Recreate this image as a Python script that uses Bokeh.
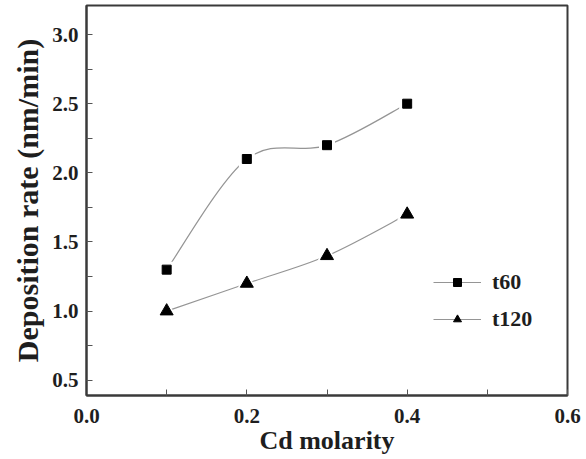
from bokeh.plotting import figure
from bokeh.models import (Range1d, FixedTicker, ColumnDataSource, Legend, LegendItem,
                          PrintfTickFormatter)
from bokeh.embed import file_html
from bokeh.resources import INLINE

# data
cd_molarity = [0.1, 0.2, 0.3, 0.4]
t60 = [1.3, 2.1, 2.2, 2.5]
t120 = [1.0, 1.2, 1.4, 1.7]
series_names = ["t60", "t120"]
x_ticks = [0.0, 0.2, 0.4, 0.6]
x_minor = [0.1, 0.3, 0.5]
y_ticks = [0.5, 1.0, 1.5, 2.0, 2.5, 3.0]
y_minor = [0.75, 1.25, 1.75, 2.25, 2.75]

FONT = "Liberation Serif"
LINE_COLOR = "#959595"
TEXT = "#1e1e1e"

p = figure(width=586, height=459, output_backend="svg", toolbar_location=None,
           x_range=Range1d(0.0, 0.6), y_range=Range1d(0.39, 3.21),
           min_border_left=86, min_border_right=19, min_border_top=5, min_border_bottom=64)
p.grid.visible = False
p.background_fill_color = "white"
p.border_fill_color = "white"
p.outline_line_color = "#3a3a3a"
p.outline_line_width = 2

for ax in (p.xaxis[0], p.yaxis[0]):
    ax.axis_line_color = "#3a3a3a"
    ax.axis_line_width = 2
    ax.major_tick_in = 6
    ax.major_tick_out = 0
    ax.minor_tick_in = 6
    ax.minor_tick_out = 0
    ax.major_tick_line_color = "#555555"
    ax.minor_tick_line_color = "#555555"
    ax.major_label_text_font = FONT
    ax.major_label_text_font_style = "bold"
    ax.major_label_text_font_size = "21px"
    ax.major_label_text_color = TEXT
    ax.axis_label_text_font = FONT
    ax.axis_label_text_font_style = "bold"
    ax.axis_label_text_color = TEXT
    ax.formatter = PrintfTickFormatter(format="%.1f")

p.xaxis.ticker = FixedTicker(ticks=x_ticks, minor_ticks=x_minor)
p.yaxis.ticker = FixedTicker(ticks=y_ticks, minor_ticks=y_minor)
p.xaxis.major_label_standoff = 13
p.yaxis.major_label_standoff = 8
p.xaxis.axis_label = "Cd molarity"
p.yaxis.axis_label = "Deposition rate (nm/min)"
p.xaxis.axis_label_text_font_size = "26px"
p.yaxis.axis_label_text_font_size = "30px"
p.xaxis.axis_label_standoff = 0
p.yaxis.axis_label_standoff = 5


def bezier_source(xs, ys):
    n = len(xs)
    d = dict(x0=[], y0=[], x1=[], y1=[], cx0=[], cy0=[], cx1=[], cy1=[])
    for i in range(n - 1):
        im = max(i - 1, 0)
        ip2 = min(i + 2, n - 1)
        d["x0"].append(xs[i]); d["y0"].append(ys[i])
        d["x1"].append(xs[i + 1]); d["y1"].append(ys[i + 1])
        d["cx0"].append(xs[i] + (xs[i + 1] - xs[im]) / 6)
        d["cy0"].append(ys[i] + (ys[i + 1] - ys[im]) / 6)
        d["cx1"].append(xs[i + 1] - (xs[ip2] - xs[i]) / 6)
        d["cy1"].append(ys[i + 1] - (ys[ip2] - ys[i]) / 6)
    return ColumnDataSource(d)


items = []
for name, ys, marker, size in [(series_names[0], t60, "square", 9),
                               (series_names[1], t120, "triangle", 13)]:
    p.bezier(x0="x0", y0="y0", x1="x1", y1="y1", cx0="cx0", cy0="cy0",
             cx1="cx1", cy1="cy1", source=bezier_source(cd_molarity, ys),
             line_color=LINE_COLOR, line_width=1.2)
    # white halo to leave a small gap between curve and marker
    halo = p.scatter(cd_molarity, ys, marker=marker, size=size + 7,
                     fill_color="white", line_color=None)
    sc = p.scatter(cd_molarity, ys, marker=marker, size=size,
                   fill_color="black", line_color="black")
    dummy = p.line(x=[float("nan")], y=[float("nan")],
                   line_color=LINE_COLOR, line_width=1.2)
    items.append(LegendItem(label=name, renderers=[dummy, halo, sc]))

legend = Legend(items=items, location=(347, 63), padding=0, margin=0,
                spacing=11, glyph_width=48, glyph_height=20, label_height=20,
                label_standoff=11, border_line_color=None,
                background_fill_alpha=0,
                label_text_font=FONT, label_text_font_size="22px",
                label_text_font_style="bold", label_text_color=TEXT)
p.add_layout(legend, "center")

open("out.html", "w").write(file_html(p, INLINE))
